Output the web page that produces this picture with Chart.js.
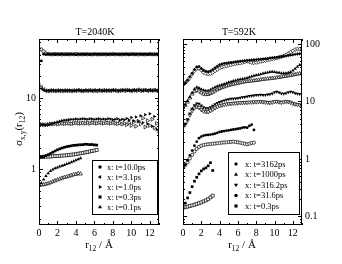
<!DOCTYPE html>
<html lang="en">
<head>
<meta charset="UTF-8" />
<title>sigma_xy(r12)</title>
<style>
  html, body { margin: 0; padding: 0; background: #fff; }
  body { width: 342px; height: 264px; position: relative; overflow: hidden; }
  .panel { position: absolute; top: 0; width: 171px; height: 264px; }
  #left { left: 0; }
  #right { left: 171px; }
</style>
</head>
<body>
<div class="panel" id="left"><canvas id="hotChart" width="171" height="264"></canvas></div>
<div class="panel" id="right"><canvas id="coldChart" width="171" height="264"></canvas></div>

<script src="https://cdn.jsdelivr.net/npm/chart.js"></script>
<script>
  // r12 grid (Angstrom), shared by all series
  const rGrid = [0, 0.25, 0.5, 0.75, 1, 1.25, 1.5, 1.75, 2, 2.25,
                 2.5, 2.75, 3, 3.25, 3.5, 3.75, 4, 4.25, 4.5, 4.75,
                 5, 5.25, 5.5, 5.75, 6, 6.25, 6.5, 6.75, 7, 7.25,
                 7.5, 7.75, 8, 8.25, 8.5, 8.75, 9, 9.25, 9.5, 9.75,
                 10, 10.25, 10.5, 10.75, 11, 11.25, 11.5, 11.75, 12, 12.25,
                 12.5, 12.75, 13];

  const xTicks = [0, 2, 4, 6, 8, 10, 12];
  const hotYTicks = [1, 10];
  const coldYTicks = [0.1, 1, 10, 100];

  // ---- T=2040K ----
  const hotLabels = ["x: t=10.0ps", "x: t=3.1ps", "x: t=1.0ps", "x: t=0.3ps", "x: t=0.1ps"];

  const hot10x = [40, 33, 41, 40.5, 41, 40.8, 41.2, 40.6, 41, 40.7,
                  41.3, 40.9, 40.6, 41, 41.2, 40.8, 40.5, 41, 40.9, 41.1,
                  40.7, 41, 40.6, 40.9, 41.2, 40.8, 41, 40.7, 40.9, 41.1,
                  40.6, 41, 40.8, 41.2, 40.9, 40.7, 41, 40.8, 41.1, 40.6,
                  40.9, 41, 40.7, 41.2, 40.8, 40.9, 41, 40.6, 41.1, 40.8,
                  40.9, 41, 40.7];
  const hot10y = [47, 48, 45, 42, 41.5, 41, 40.8, 41.3, 40.9, 41.1,
                  40.7, 41, 41.2, 40.8, 41, 40.9, 41.3, 40.7, 41, 40.8,
                  41.1, 40.9, 41, 40.7, 41.2, 40.9, 40.8, 41, 41.1, 40.7,
                  41, 40.9, 41.2, 40.8, 41, 40.9, 40.7, 41.1, 41, 40.8,
                  41.2, 40.9, 41, 40.7, 41.1, 40.9, 40.8, 41, 41.2, 40.9,
                  41, 40.8, 41.1];

  const hot31x = [14.4, 13.5, 12.9, 12.6, 12.7, 12.6, 12.8, 12.7, 12.6, 12.7,
                  12.8, 12.6, 12.7, 12.8, 12.7, 12.6, 12.7, 12.9, 12.7, 12.6,
                  12.8, 12.7, 12.7, 12.6, 12.8, 12.7, 12.9, 12.7, 12.6, 12.8,
                  12.7, 12.7, 12.9, 12.8, 12.7, 12.6, 12.8, 12.9, 12.7, 12.8,
                  12.6, 12.9, 12.7, 12.8, 12.9, 12.6, 12.8, 12.7, 12.9, 12.6,
                  12.8, 12.7, 12.9];
  const hot31y = [15.0, 14.0, 13.1, 12.6, 12.5, 12.7, 12.6, 12.5, 12.7, 12.6,
                  12.5, 12.7, 12.6, 12.6, 12.5, 12.7, 12.6, 12.8, 12.6, 12.5,
                  12.7, 12.6, 12.8, 12.6, 12.7, 12.5, 12.7, 12.6, 12.8, 12.6,
                  12.7, 12.6, 12.8, 12.7, 12.5, 12.7, 12.8, 12.6, 12.9, 12.7,
                  12.6, 12.8, 12.7, 13.0, 12.6, 12.8, 12.9, 12.6, 12.8, 12.7,
                  12.9, 12.6, 12.8];

  const hot1x = [4.3, 4.2, 4.2, 4.15, 4.2, 4.3, 4.4, 4.5, 4.6, 4.7,
                 4.8, 4.85, 4.9, 4.95, 5.0, 5.0, 5.05, 5.0, 5.05, 5.1,
                 5.05, 5.0, 5.1, 5.05, 5.0, 5.05, 5.1, 5.0, 5.05, 5.0,
                 5.1, 5.05, 4.95, 5.0, 5.1, 4.9, 5.0, 4.95, 5.15, 4.9,
                 5.3, 4.8, 5.4, 4.7, 5.6, 4.5, 5.8, 4.3, 6.0, 4.0,
                 5.5, 3.6, 3.2];
  const hot1y = [4.3, 4.25, 4.2, 4.2, 4.25, 4.3, 4.3, 4.35, 4.3, 4.35,
                 4.4, 4.35, 4.4, 4.4, 4.35, 4.4, 4.45, 4.4, 4.4, 4.45,
                 4.4, 4.45, 4.4, 4.5, 4.45, 4.4, 4.5, 4.45, 4.4, 4.5,
                 4.45, 4.4, 4.5, 4.4, 4.35, 4.45, 4.3, 4.4, 4.2, 4.5,
                 4.1, 4.6, 4.0, 4.7, 4.3, 5.2, 3.9, 4.8, 4.1, 5.0,
                 3.8, 4.4, 3.4];

  const hot03x = [1.48, 1.49, 1.5, 1.55, 1.6, 1.66, 1.73, 1.8, 1.87, 1.93,
                  1.98, 2.03, 2.07, 2.1, 2.13, 2.16, 2.17, 2.19, 2.2, 2.21,
                  2.24, 2.23, 2.21, 2.22, 2.19, 2.18];
  const hot03y = [1.48, 1.48, 1.49, 1.5, 1.5, 1.51, 1.52, 1.53, 1.53, 1.54,
                  1.55, 1.56, 1.57, 1.58, 1.6, 1.61, 1.63, 1.65, 1.67, 1.69,
                  1.72, 1.74, 1.77, 1.8, 1.83, 1.86];

  const hot01x = [0.6, 0.64, 0.72, 0.8, 0.88, 0.94, 0.99, 1.03, 1.06, 1.09,
                  1.12, 1.15, 1.18, 1.21, 1.25, 1.29, 1.33, 1.38, 1.42];
  const hot01y = [0.6, 0.6, 0.61, 0.62, 0.63, 0.65, 0.67, 0.69, 0.71, 0.73,
                  0.75, 0.77, 0.78, 0.8, 0.82, 0.84, 0.85, 0.87, 0.86];

  // ---- T=592K ----
  const coldLabels = ["x: t=3162ps", "x: t=1000ps", "x: t=316.2ps", "x: t=31.6ps", "x: t=0.3ps"];

  const cold3162x = [19.4, 21, 23.5, 27, 31, 36, 40, 40.5, 37.5, 35,
                     33.5, 33, 34, 36, 38.5, 41, 43.5, 45, 46, 46.5,
                     47, 47.5, 48, 49, 49.5, 50, 50.5, 51, 51.5, 52,
                     52.5, 53, 53.5, 54, 54.5, 55, 55.5, 56, 57, 57.5,
                     58, 58.5, 59.5, 60.5, 61, 62, 63, 64, 65, 66,
                     67, 67.5, 68];
  const cold3162y = [19.4, 21, 23, 26, 30, 34, 37.5, 37.5, 35, 32,
                     30.5, 30, 30.5, 32, 34, 36, 38, 39.5, 40.5, 41.5,
                     42.5, 43.5, 44.5, 45.5, 46, 46.5, 47.5, 49, 50, 49,
                     47.5, 47, 47.5, 48.5, 49.5, 50.5, 51.5, 52.5, 53.5, 55,
                     56, 57, 58.5, 60, 62, 65, 68, 72, 76, 80,
                     82, 81, 79];

  const cold1000x = [7.9, 8.8, 10.2, 12, 14.2, 16.5, 17.6, 17.2, 16.3, 15.6,
                     15.3, 15.4, 16, 16.8, 17.6, 18.3, 19, 19.6, 20.2, 20.8,
                     21.5, 22, 22.6, 23.2, 23.8, 24.3, 24.6, 25, 25.6, 26.5,
                     27.3, 28, 28.5, 29, 29.8, 30.5, 31.2, 31.8, 32.5, 32.8,
                     32.6, 32, 31.5, 31, 30.8, 31, 31.5, 32.5, 34.5, 37,
                     40, 43, 45];
  const cold1000y = [7.9, 8.6, 9.8, 11.5, 13.5, 15, 15.8, 15.2, 14.2, 13.5,
                     13.2, 13.3, 13.8, 14.5, 15.3, 16, 16.8, 17.4, 18, 18.6,
                     19.1, 19.6, 20, 20.4, 20.8, 21.2, 21.6, 22, 22.3, 22.6,
                     22.8, 23, 23.3, 23.6, 24, 24.3, 24.6, 24.8, 25, 25.3,
                     25.6, 26, 26.3, 26.8, 27.2, 27.6, 28, 28.5, 29, 29.5,
                     30, 30.5, 31];

  const cold316x = [3.6, 4.1, 4.9, 6.2, 7.5, 8.6, 9.2, 9.1, 8.5, 7.9,
                    7.6, 7.6, 7.9, 8.4, 8.9, 9.4, 9.8, 10.1, 10.4, 10.7,
                    10.9, 11.1, 11.2, 11.3, 11.4, 11.6, 11.8, 12, 12.2, 12.4,
                    12.6, 12.7, 12.9, 13, 13.1, 12.9, 13, 13.2, 13.3, 13.8,
                    14.5, 14.8, 14.3, 13.8, 13.6, 13.9, 14.4, 14.8, 14.4, 13.9,
                    13.6, 13.5, 13.4];
  const cold316y = [3.6, 4, 4.7, 5.8, 6.9, 7.7, 8.1, 7.8, 7.2, 6.8,
                    6.6, 6.6, 6.9, 7.3, 7.7, 8.1, 8.4, 8.6, 8.8, 9,
                    9.1, 9.2, 9.3, 9.3, 9.4, 9.5, 9.5, 9.6, 9.6, 9.7,
                    9.7, 9.8, 9.8, 9.9, 9.9, 9.8, 9.7, 9.6, 9.5, 9.7,
                    9.9, 10, 9.8, 9.6, 9.8, 10, 9.9, 9.6, 9.2, 9,
                    8.8, 8.7, 8.6];

  const cold31x = [0.72, 0.8, 0.95, 1.15, 1.4, 1.7, 2.0, 2.3, 2.45, 2.55,
                   2.6, 2.62, 2.65, 2.7, 2.75, 2.85, 2.95, 3.0, 3.05, 3.1,
                   3.15, 3.2, 3.25, 3.3, 3.35, 3.4, 3.5, 3.55, 3.5, 3.75,
                   3.95, 3.2];
  const cold31y = [0.72, 0.78, 0.88, 1.02, 1.18, 1.35, 1.5, 1.62, 1.7, 1.75,
                   1.78, 1.8, 1.82, 1.84, 1.86, 1.88, 1.9, 1.92, 1.94, 1.95,
                   1.97, 1.98, 2.0, 1.98, 1.95, 1.92, 1.88, 1.84, 1.8, 1.84,
                   1.9, 1.92];

  const cold03x = [0.143, 0.17, 0.21, 0.26, 0.33, 0.41, 0.48, 0.55, 0.62, 0.67,
                   0.7, 0.76, 0.86, 0.63];
  const cold03y = [0.143, 0.145, 0.148, 0.152, 0.156, 0.16, 0.165, 0.17, 0.176, 0.183,
                   0.19, 0.2, 0.215, 0.23];

  const SERIF = "'Liberation Serif', 'Times New Roman', serif";
  Chart.defaults.font.family = SERIF;
  Chart.defaults.color = '#000';

  // marker size per style so shapes look about the same size
  const markerRadius = { circle: 1.4, rect: 1.9, rectRot: 1.7, triangle: 2.0 };

  function series(ys, style, rot, filled) {
    const rad = markerRadius[style] + (filled ? 0 : 0.2);
    return {
      data: ys.map((v, i) => ({ x: rGrid[i], y: v })),
      showLine: false,
      pointStyle: style,
      pointRotation: rot,
      pointRadius: rad,
      pointHoverRadius: rad,
      pointBackgroundColor: filled ? '#000' : '#fff',
      pointBorderColor: '#000',
      pointBorderWidth: filled ? 0 : 0.7
    };
  }

  function drawMarker(ctx, style, rot, cx, cy, filled) {
    const r = markerRadius[style] + 0.3;
    ctx.save();
    ctx.translate(cx, cy);
    ctx.rotate(rot * Math.PI / 180);
    ctx.beginPath();
    if (style === 'circle') {
      ctx.arc(0, 0, r, 0, Math.PI * 2);
    } else if (style === 'rect') {
      const h = r * Math.SQRT1_2;
      ctx.rect(-h, -h, 2 * h, 2 * h);
    } else if (style === 'rectRot') {
      ctx.moveTo(0, -r); ctx.lineTo(r, 0); ctx.lineTo(0, r); ctx.lineTo(-r, 0); ctx.closePath();
    } else {
      ctx.moveTo(0, -r); ctx.lineTo(r * 0.866, r * 0.5); ctx.lineTo(-r * 0.866, r * 0.5); ctx.closePath();
    }
    ctx.fillStyle = filled ? '#000' : '#fff';
    ctx.fill();
    ctx.restore();
  }

  // text made of pieces, some of them subscripts
  function richText(ctx, parts, cx, base) {
    let total = 0;
    parts.forEach(p => { ctx.font = p.size + 'px ' + SERIF; total += ctx.measureText(p.t).width; });
    let x = cx - total / 2;
    ctx.textAlign = 'left';
    ctx.textBaseline = 'alphabetic';
    parts.forEach(p => {
      ctx.font = p.size + 'px ' + SERIF;
      ctx.fillText(p.t, x, base + (p.dy || 0));
      x += ctx.measureText(p.t).width;
    });
  }

  // box with inward ticks on all four sides, like the grace frame
  const frameTicks = {
    id: 'frameTicks',
    afterDatasetsDraw(chart) {
      const { ctx, chartArea: a } = chart;
      const xs = chart.scales.x, ys = chart.scales.y;
      ctx.save();
      ctx.strokeStyle = '#000';
      ctx.lineWidth = 1;
      ctx.strokeRect(a.left + 0.5, a.top + 0.5, a.right - a.left - 1, a.bottom - a.top - 1);
      ctx.beginPath();
      for (let v = xs.min; v <= xs.max; v++) {
        const px = Math.round(xs.getPixelForValue(v)) + 0.5;
        const len = xTicks.includes(v) ? 4 : 2;
        ctx.moveTo(px, a.bottom); ctx.lineTo(px, a.bottom - len);
        ctx.moveTo(px, a.top); ctx.lineTo(px, a.top + len);
      }
      for (let e = -2; e <= 2; e++) {
        for (let m = 1; m <= 9; m++) {
          const v = m * Math.pow(10, e);
          if (v < ys.min || v > ys.max) continue;
          const py = Math.round(ys.getPixelForValue(v)) + 0.5;
          const len = m === 1 ? 4 : 2;
          ctx.moveTo(a.left, py); ctx.lineTo(a.left + len, py);
          ctx.moveTo(a.right, py); ctx.lineTo(a.right - len, py);
        }
      }
      ctx.stroke();
      ctx.restore();
    }
  };

  const decorations = {
    id: 'decorations',
    afterDraw(chart, args, o) {
      const ctx = chart.ctx;
      ctx.save();
      ctx.fillStyle = '#000';
      // panel title
      richText(ctx, [{ t: o.title, size: 10 }], o.titleX, 34.5);
      // x axis title
      richText(ctx, [{ t: 'r', size: 11 }, { t: '12', size: 7.5, dy: 3 }, { t: ' / Å', size: 11 }], o.xTitleX, 247.5);
      // y axis title (left panel only)
      if (o.yTitle) {
        ctx.save();
        ctx.translate(22, 129);
        ctx.rotate(-Math.PI / 2);
        richText(ctx, [{ t: 'σ', size: 11 }, { t: 'x,y', size: 7.5, dy: 2.5 }, { t: '(r', size: 11 },
                       { t: '12', size: 7.5, dy: 2.5 }, { t: ')', size: 11 }], 0, 0);
        ctx.restore();
      }
      // legend
      const L = o.legend;
      ctx.fillStyle = '#fff';
      ctx.fillRect(L.x, L.y, L.w, L.h);
      ctx.strokeStyle = '#000';
      ctx.lineWidth = 1;
      ctx.strokeRect(L.x + 0.5, L.y + 0.5, L.w, L.h);
      ctx.font = '8.5px ' + SERIF;
      ctx.textBaseline = 'middle';
      ctx.textAlign = 'left';
      L.labels.forEach((lab, i) => {
        const cy = L.y + L.first + i * L.step;
        const ds = chart.data.datasets[i * 2];
        drawMarker(ctx, ds.pointStyle, ds.pointRotation, L.x + L.mark, cy, true);
        ctx.fillStyle = '#000';
        ctx.fillText(lab, L.x + L.text, cy + 0.5);
      });
      ctx.restore();
    }
  };

  function makeChart(id, datasets, yMin, yMax, yTicks, yPos, padding, deco) {
    return new Chart(document.getElementById(id), {
      type: 'scatter',
      data: { datasets },
      options: {
        responsive: false,
        animation: false,
        devicePixelRatio: 1,
        layout: { padding },
        plugins: {
          legend: { display: false },
          tooltip: { enabled: false },
          decorations: deco
        },
        scales: {
          x: {
            type: 'linear', min: 0, max: 13,
            afterBuildTicks: s => { s.ticks = xTicks.map(v => ({ value: v })); },
            afterFit: s => { s.height = 20; },
            ticks: { font: { size: 10 }, padding: 2, maxRotation: 0 },
            grid: { display: false, drawTicks: false },
            border: { display: false }
          },
          y: {
            type: 'logarithmic', position: yPos, min: yMin, max: yMax,
            afterBuildTicks: s => { s.ticks = yTicks.map(v => ({ value: v })); },
            afterFit: s => { s.width = yPos === 'left' ? 39 : 40; },
            ticks: { font: { size: 10 }, padding: 3, callback: v => String(v) },
            grid: { display: false, drawTicks: false },
            border: { display: false }
          }
        }
      },
      plugins: [frameTicks, decorations]
    });
  }

  makeChart('hotChart', [
      series(hot10x, 'circle', 0, true),    series(hot10y, 'circle', 0, false),
      series(hot31x, 'triangle', -90, true), series(hot31y, 'triangle', -90, false),
      series(hot1x, 'triangle', 90, true),   series(hot1y, 'triangle', 90, false),
      series(hot03x, 'rect', 0, true),       series(hot03y, 'rect', 0, false),
      series(hot01x, 'triangle', 0, true),   series(hot01y, 'triangle', 0, false)
    ], 0.165, 67, hotYTicks, 'left',
    { left: 0, right: 12, top: 39, bottom: 19 },
    { title: 'T=2040K', titleX: 95, xTitleX: 99, yTitle: true,
      legend: { x: 92, y: 160, w: 65, h: 54, first: 7, step: 10, mark: 8, text: 15, labels: hotLabels } });

  makeChart('coldChart', [
      series(cold3162x, 'rectRot', 0, true),   series(cold3162y, 'rectRot', 0, false),
      series(cold1000x, 'triangle', 0, true),  series(cold1000y, 'triangle', 0, false),
      series(cold316x, 'triangle', 180, true), series(cold316y, 'triangle', 180, false),
      series(cold31x, 'circle', 0, true),      series(cold31y, 'circle', 0, false),
      series(cold03x, 'rect', 0, true),        series(cold03y, 'rect', 0, false)
    ], 0.071, 122, coldYTicks, 'right',
    { left: 12, right: 0, top: 39, bottom: 19 },
    { title: 'T=592K', titleX: 68, xTitleX: 71, yTitle: false,
      legend: { x: 57, y: 152, w: 71, h: 62, first: 12, step: 10.5, mark: 8, text: 17, labels: coldLabels } });
</script>
</body>
</html>
